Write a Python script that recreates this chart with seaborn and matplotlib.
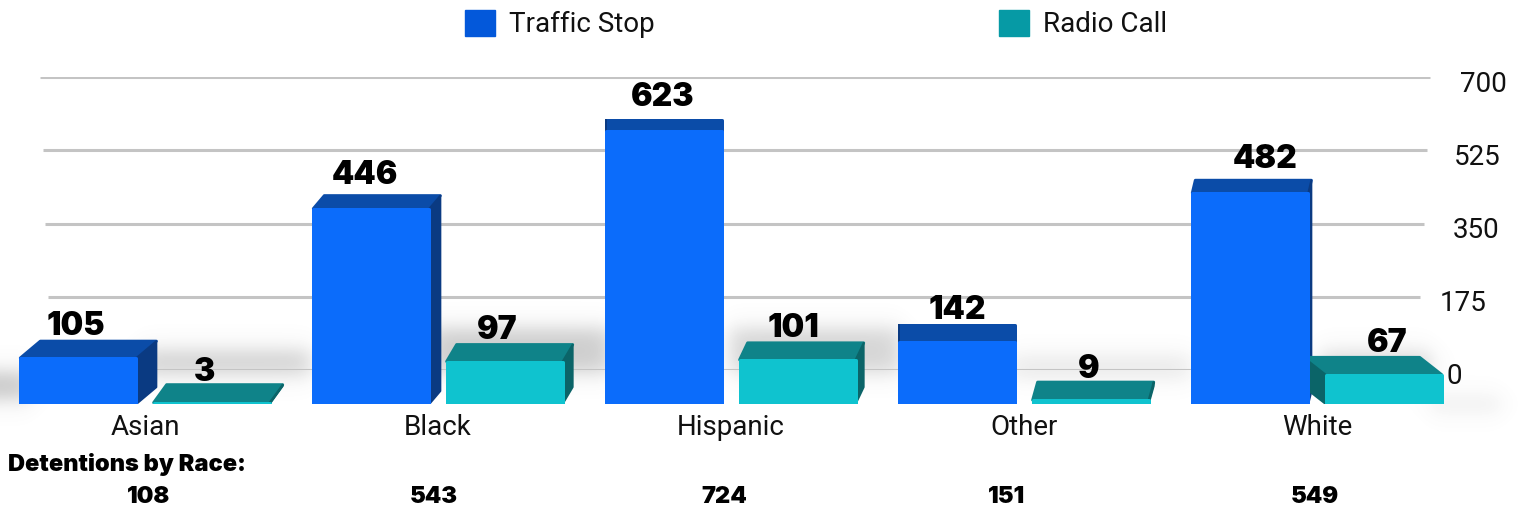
import numpy as np
import pandas as pd
import seaborn as sns
import matplotlib.pyplot as plt
from matplotlib.patches import Patch, Polygon
from matplotlib.transforms import ScaledTranslation

races = ["Asian", "Black", "Hispanic", "Other", "White"]
traffic_stop = [105, 446, 623, 142, 482]
radio_call = [3, 97, 101, 9, 67]
detentions = [108, 543, 724, 151, 549]
axis_ticks = [0, 175, 350, 525, 700]

W, H = 1525, 512
sns.set_theme(style="white")
plt.rcParams["font.family"] = ["Roboto", "DejaVu Sans"]
TXT = "#111111"
HEAVY = ["Inter", "DejaVu Sans"]


def px(v):
    # pixels to points
    return v * 72 / 100


def soft(xx, yy, x0, x1, y0, y1, blur):
    return (
        0.25
        * (np.tanh((xx - x0) / blur) - np.tanh((xx - x1) / blur))
        * (np.tanh((yy - y0) / blur) - np.tanh((yy - y1) / blur))
    )


fig = plt.figure(figsize=(W / 100, H / 100), dpi=100, facecolor="white")

# blurred floor shadow behind the bars
back = fig.add_axes([0, 0, 1, 1])
back.axis("off")
xx, yy = np.meshgrid(np.arange(W), np.arange(H))
zones = [
    (-60, 30, 372, 398, 0.42),
    (140, 310, 350, 374, 0.34),
    (430, 610, 328, 372, 0.36),
    (730, 900, 328, 372, 0.30),
    (1010, 1190, 355, 378, 0.16),
    (1320, 1430, 352, 378, 0.30),
    (1430, 1500, 395, 412, 0.12),
]
shade = sum(a * soft(xx, yy, x0, x1, y0, y1, 12) for x0, x1, y0, y1, a in zones)
rgba = np.zeros((H, W, 4))
rgba[..., :3] = 0.45
rgba[..., 3] = np.clip(shade, 0, 1)
back.imshow(rgba, extent=(0, W, H, 0), aspect="auto", interpolation="bilinear")

# grid and right hand axis, slightly fanned like the 3D original
y0_px, y700_px = 370, 77
grid_ax = fig.add_axes([0, 1 - y0_px / H, 1, (y0_px - y700_px) / H])
grid_ax.patch.set_alpha(0)
grid_ax.set_xlim(0, W)
grid_ax.set_ylim(0, 700)
for v in axis_ticks:
    grid_ax.plot([50 - 10 * v / 700, 1417 + 13 * v / 700], [v, v], color="#c4c4c4", lw=2.2, solid_capstyle="butt")
grid_ax.yaxis.tick_right()
grid_ax.set_yticks(axis_ticks)
grid_ax.set_xticks([])
grid_ax.tick_params(axis="y", length=0, labelsize=20, labelcolor=TXT, pad=0)
label_right = {0: 1462, 175: 1487, 350: 1499, 525: 1501, 700: 1507}
nudge = ScaledTranslation(0, -4 / 72 * 0.72, fig.dpi_scale_trans)
for tick, v in zip(grid_ax.yaxis.get_major_ticks(), axis_ticks):
    tick.label2.set_x(label_right[v] / W)
    tick.label2.set_ha("right")
    tick.label2.set_transform(tick.label2.get_transform() + nudge)
sns.despine(ax=grid_ax, left=True, right=True, top=True, bottom=True)

# bars
base_px = 404
px_per_unit = 0.438
x0_px, step_px = 145, 293
ax = fig.add_axes([0, 1 - base_px / H, 1, (base_px - 40) / H])
ax.patch.set_alpha(0)
df = pd.DataFrame(
    {
        "race": races * 2,
        "kind": ["Traffic Stop"] * 5 + ["Radio Call"] * 5,
        "count": traffic_stop + radio_call,
    }
)
front = {"Traffic Stop": "#0b6cfb", "Radio Call": "#0fc3cf"}
cap = {"Traffic Stop": "#0b4ca8", "Radio Call": "#0f8389"}
side = {"Traffic Stop": "#0a3a82", "Radio Call": "#0b6468"}
# how far each top face leans and how far its label sits off, in pixels, per series
lean = {"Traffic Stop": [20, 11, 0, 0, 3], "Radio Call": [13, 10, 8, 5, -22]}
label_shift = {"Traffic Stop": [-12, -12, -2, 0, 13], "Radio Call": [-14, -12, -8, -4, 15]}
sns.barplot(data=df, x="race", y="count", hue="kind", order=races, palette=front,
            width=0.91, gap=0.13, legend=False, saturation=1, ax=ax)
ax.set_xlim(-x0_px / step_px, (W - x0_px) / step_px)
ax.set_ylim(0, (base_px - 40) / px_per_unit)
ax.set_xlabel("")
ax.set_ylabel("")
ax.set_yticks([])
ax.tick_params(axis="x", length=0, labelsize=20, labelcolor=TXT, pad=7)
sns.despine(ax=ax, left=True, bottom=True)

ux = 1 / step_px
uy = 1 / px_per_unit
for kind, container in zip(["Traffic Stop", "Radio Call"], ax.containers):
    for bar, lean_px, shift_px in zip(container, lean[kind], label_shift[kind]):
        x, w, v = bar.get_x(), bar.get_width(), bar.get_height()
        dx = lean_px * ux
        dy = (18 - 7 * v / 623) * uy
        bar.set_edgecolor(front[kind])
        bar.set_linewidth(px(3))
        bar.set_joinstyle("round")
        bar.set_zorder(3)
        ax.add_patch(Polygon([(x, v), (x + w, v), (x + w + dx, v + dy), (x + dx, v + dy)],
                             fc=cap[kind], ec=cap[kind], lw=px(3), joinstyle="round", zorder=2))
        edge = x + w if dx > 0 else x
        ax.add_patch(Polygon([(edge, 0), (edge, v), (edge + dx, v + dy), (edge + dx, dy)],
                             fc=side[kind], ec=side[kind], lw=px(2), joinstyle="round", zorder=2))
        ax.annotate(f"{v:.0f}", (x + w / 2 + dx / 2, v + dy), xytext=(px(shift_px), px(-3 + v * 0.017)),
                    textcoords="offset points", ha="center", va="bottom", family=HEAVY,
                    fontsize=23, fontweight="black", color="black", zorder=5)

# totals row
fig.text(8 / W, 1 - 465 / H, "Detentions by Race:", fontsize=17, fontweight="black",
         family=HEAVY, color="black", ha="left", va="center")
total_x = [149, 434, 724, 1007, 1315]
for tx, total in zip(total_x, detentions):
    fig.text(tx / W, 1 - 497 / H, str(total), fontsize=17, fontweight="black",
             family=HEAVY, color="black", ha="center", va="center")

# legend
handles = [Patch(color="#0358da", label="Traffic Stop"), Patch(color="#069aa5", label="Radio Call")]
leg = fig.legend(handles=handles, loc="center", bbox_to_anchor=(816 / W, 1 - 24 / H), ncol=2,
                 frameon=False, fontsize=20, handlelength=1.08, handleheight=1.08,
                 handletextpad=0.5, columnspacing=12.4, labelcolor=TXT)

fig.savefig("out.png", dpi=100)
